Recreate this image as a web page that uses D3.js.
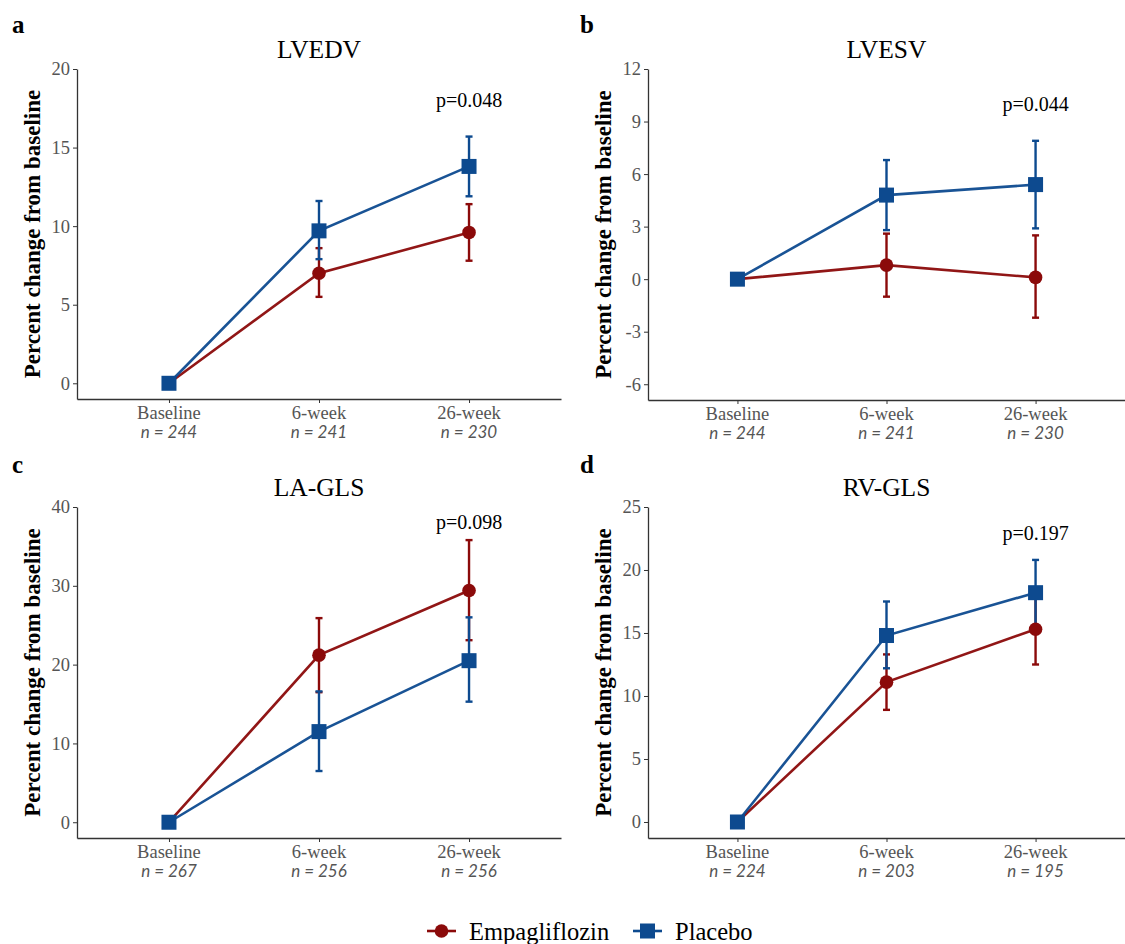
<!DOCTYPE html>
<html>
<head>
<meta charset="utf-8">
<script src="https://cdn.jsdelivr.net/npm/d3@7"></script>
<style>
  body { margin: 0; background: #fff; }
  svg text { font-family: "Liberation Serif", "Times New Roman", serif; font-variant-ligatures: none; }
  svg text.nlab { font-family: Lato, "Open Sans", sans-serif; font-style: italic; }
</style>
</head>
<body>
<svg id="chart" width="1125" height="944"></svg>
<script>
// data
var timepoints = ["Baseline", "6-week", "26-week"];
var letters = ["a", "b", "c", "d"];
var titles = ["LVEDV", "LVESV", "LA-GLS", "RV-GLS"];
var nCounts = [[244, 241, 230], [244, 241, 230], [267, 256, 256], [224, 203, 195]];
var pValues = ["p=0.048", "p=0.044", "p=0.098", "p=0.197"];
var pValueY = [18, 10, 38.1, 22.9];

var empaMean = [[0, 7.0, 9.6], [0, 0.8, 0.1], [0, 21.2, 29.4], [0, 11.1, 15.3]];
var empaLow  = [[0, 5.5, 7.8], [0, -1.0, -2.2], [0, 16.5, 23.1], [0, 8.9, 12.5]];
var empaHigh = [[0, 8.6, 11.4], [0, 2.6, 2.5], [0, 25.9, 35.8], [0, 13.3, 18.1]];

var placMean = [[0, 9.7, 13.8], [0, 4.8, 5.4], [0, 11.5, 20.5], [0, 14.8, 18.2]];
var placLow  = [[0, 7.9, 11.9], [0, 2.8, 2.9], [0, 6.5, 15.3], [0, 12.2, 15.6]];
var placHigh = [[0, 11.6, 15.7], [0, 6.8, 7.9], [0, 16.6, 26.0], [0, 17.5, 20.8]];

var yTicks = [[0, 5, 10, 15, 20], [-6, -3, 0, 3, 6, 9, 12], [0, 10, 20, 30, 40], [0, 5, 10, 15, 20, 25]];
var yDomains = [[-1, 20], [-6.9, 12], [-2, 40], [-1.27, 25]];

var groups = ["Empagliflozin", "Placebo"];
var colors = {"Empagliflozin": "#8b0a0a", "Placebo": "#0d4a8f"};

var svg = d3.select("#chart");

// panel boxes (plot area)
var boxes = [
  {left: 77, right: 561, top: 69, bottom: 399, letterX: 12, letterY: 33, pad: 0.613},
  {left: 648, right: 1125, top: 69, bottom: 400, letterX: 580, letterY: 33, pad: 0.6},
  {left: 77, right: 561, top: 507, bottom: 838, letterX: 12, letterY: 473, pad: 0.613},
  {left: 648, right: 1125, top: 507, bottom: 838, letterX: 580, letterY: 473, pad: 0.6}
];

boxes.forEach(function(b, i) {
  var x = d3.scalePoint().domain(timepoints).range([b.left, b.right]).padding(b.pad);
  var y = d3.scaleLinear().domain(yDomains[i]).range([b.bottom, b.top]);
  var g = svg.append("g");

  // letter + title
  g.append("text").attr("x", b.letterX).attr("y", b.letterY)
    .attr("font-size", 25).attr("font-weight", "bold").text(letters[i]);
  g.append("text").attr("x", (b.left + b.right) / 2).attr("y", b.top - 11)
    .attr("text-anchor", "middle").attr("font-size", 25.5).text(titles[i]);

  // y axis
  var yAxis = g.append("g").attr("transform", "translate(" + b.left + ",0)")
    .call(d3.axisLeft(y).tickValues(yTicks[i]).tickSize(4).tickSizeOuter(0).tickPadding(3)
      .tickFormat(function(d) { return String(d); }));
  yAxis.select(".domain").attr("stroke", "#333").attr("stroke-width", 1.3);
  yAxis.selectAll(".tick line").attr("stroke", "#333");
  yAxis.selectAll(".tick text").attr("font-size", 18.5).attr("fill", "#555");

  // x axis
  var xAxis = g.append("g").attr("transform", "translate(0," + b.bottom + ")")
    .call(d3.axisBottom(x).tickSize(4).tickSizeOuter(0).tickFormat(""));
  xAxis.select(".domain").attr("stroke", "#333").attr("stroke-width", 1.3);
  xAxis.selectAll(".tick line").attr("stroke", "#333");
  timepoints.forEach(function(t, j) {
    g.append("text").attr("x", x(t)).attr("y", b.bottom + 20)
      .attr("text-anchor", "middle").attr("font-size", 18.5).attr("fill", "#555").text(t);
    g.append("text").attr("class", "nlab").attr("x", x(t)).attr("y", b.bottom + 39)
      .attr("text-anchor", "middle").attr("font-size", 17).attr("fill", "#555")
      .text("n = " + nCounts[i][j]);
  });

  // y title
  var cy = (b.top + b.bottom) / 2;
  g.append("text").attr("transform", "translate(" + (b.left - 45) + "," + cy + ") rotate(-90)")
    .attr("dy", "0.35em").attr("text-anchor", "middle").attr("font-size", 23).attr("font-weight", "bold")
    .text("Percent change from baseline");

  var series = [
    {name: "Empagliflozin", mean: empaMean[i], low: empaLow[i], high: empaHigh[i]},
    {name: "Placebo", mean: placMean[i], low: placLow[i], high: placHigh[i]}
  ];
  var line = d3.line().x(function(d) { return x(d.t); }).y(function(d) { return y(d.v); });

  // lines
  series.forEach(function(s) {
    var pts = timepoints.map(function(t, j) { return {t: t, v: s.mean[j]}; });
    g.append("path").datum(pts).attr("d", line).attr("fill", "none")
      .attr("stroke", colors[s.name]).attr("stroke-width", 2.6).attr("opacity", 0.95);
  });
  // error bars
  series.forEach(function(s) {
    timepoints.forEach(function(t, j) {
      if (s.low[j] === s.high[j]) return;
      var cx = x(t);
      g.append("line").attr("x1", cx).attr("x2", cx).attr("y1", y(s.low[j])).attr("y2", y(s.high[j]))
        .attr("stroke", colors[s.name]).attr("stroke-width", 2.4);
      [s.low[j], s.high[j]].forEach(function(v) {
        g.append("line").attr("x1", cx - 3.5).attr("x2", cx + 3.5).attr("y1", y(v)).attr("y2", y(v))
          .attr("stroke", colors[s.name]).attr("stroke-width", 2.4);
      });
    });
  });
  // points
  series.forEach(function(s) {
    timepoints.forEach(function(t, j) {
      if (s.name === "Empagliflozin") {
        g.append("circle").attr("cx", x(t)).attr("cy", y(s.mean[j])).attr("r", 6.8)
          .attr("fill", colors[s.name]);
      } else {
        g.append("rect").attr("x", x(t) - 7.5).attr("y", y(s.mean[j]) - 7.5)
          .attr("width", 15).attr("height", 15).attr("fill", colors[s.name]);
      }
    });
  });

  // p value
  g.append("text").attr("x", x(timepoints[2])).attr("y", y(pValueY[i]))
    .attr("dy", "0.35em").attr("text-anchor", "middle").attr("font-size", 20).text(pValues[i]);
});

// legend
var legend = svg.append("g").attr("transform", "translate(0,931)");
var legendX = {"Empagliflozin": 427, "Placebo": 633};
groups.forEach(function(name) {
  var lx = legendX[name];
  legend.append("line").attr("x1", lx).attr("x2", lx + 29).attr("y1", 0).attr("y2", 0)
    .attr("stroke", colors[name]).attr("stroke-width", 2.6);
  if (name === "Empagliflozin") {
    legend.append("circle").attr("cx", lx + 14.5).attr("cy", 0).attr("r", 6.8).attr("fill", colors[name]);
  } else {
    legend.append("rect").attr("x", lx + 7).attr("y", -7.5).attr("width", 15).attr("height", 15)
      .attr("fill", colors[name]);
  }
  legend.append("text").attr("x", lx + 42).attr("y", 0).attr("dy", "0.35em")
    .attr("font-size", 24.5).text(name);
});
</script>
</body>
</html>
